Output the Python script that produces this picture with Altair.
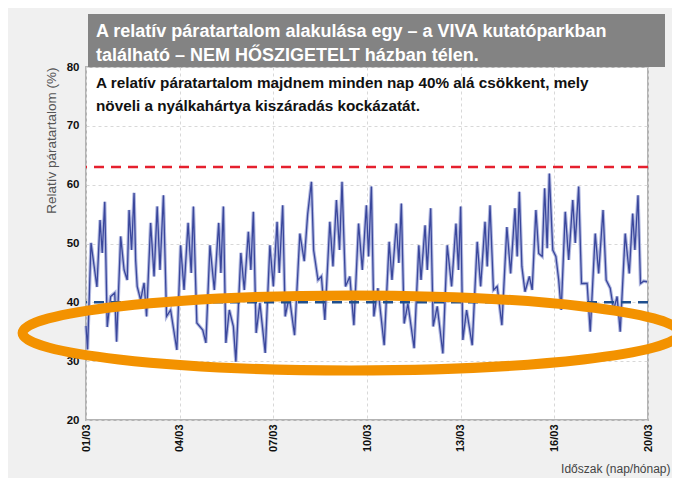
import altair as alt
import pandas as pd

# ---- data ----
days = [0.00, 0.05, 0.16, 0.35, 0.45, 0.52, 0.60, 0.68, 0.79, 0.92,
        0.98, 1.11, 1.22, 1.32, 1.38, 1.46, 1.54, 1.59, 1.64, 1.75,
        1.86, 1.94, 2.07, 2.18, 2.28, 2.37, 2.48, 2.58, 2.71, 2.91,
        3.03, 3.14, 3.27, 3.37, 3.44, 3.55, 3.74, 3.84, 3.97, 4.11,
        4.25, 4.32, 4.40, 4.48, 4.59, 4.72, 4.80, 4.96, 5.07, 5.20,
        5.28, 5.36, 5.45, 5.57, 5.74, 5.89, 6.00, 6.12, 6.19, 6.30,
        6.38, 6.51, 6.68, 6.85, 6.99, 7.10, 7.22, 7.29, 7.43, 7.54,
        7.65, 7.81, 7.91, 8.02, 8.12, 8.20, 8.31, 8.45, 8.58, 8.73,
        8.85, 8.98, 9.05, 9.14, 9.22, 9.35, 9.55, 9.71, 9.80, 9.94,
        10.02, 10.10, 10.19, 10.31, 10.51, 10.66, 10.73, 10.86, 10.93, 11.04,
        11.12, 11.25, 11.43, 11.57, 11.71, 11.85, 11.93, 12.00, 12.07, 12.19,
        12.37, 12.53, 12.64, 12.78, 12.85, 12.94, 13.05, 13.17, 13.32, 13.48,
        13.60, 13.74, 13.81, 13.88, 13.96, 14.06, 14.20, 14.29, 14.41, 14.50,
        14.61, 14.69, 14.77, 14.84, 14.95, 15.05, 15.14, 15.22, 15.35, 15.46,
        15.59, 15.67, 15.78, 15.87, 16.05, 16.15, 16.31, 16.42, 16.56, 16.66,
        16.79, 16.90, 17.01, 17.11, 17.27, 17.40, 17.51, 17.58, 17.68, 17.76,
        17.86, 17.97]
rh = [36.0, 32.0, 50.1, 42.6, 54.0, 48.4, 57.1, 35.8, 41.0, 41.6,
      33.3, 51.2, 45.5, 43.8, 55.7, 48.9, 58.6, 47.2, 42.7, 40.4,
      43.3, 37.6, 53.5, 44.4, 56.3, 45.5, 58.2, 37.6, 38.7, 31.9,
      49.7, 42.1, 53.5, 45.0, 56.3, 36.5, 35.3, 33.1, 49.7, 42.1,
      53.5, 45.0, 56.3, 33.1, 38.7, 35.9, 29.9, 48.4, 42.1, 52.0,
      45.5, 55.4, 34.8, 39.9, 31.4, 49.7, 42.7, 53.7, 45.0, 56.5,
      37.6, 41.0, 34.4, 51.7, 47.0, 55.0, 60.5, 48.9, 43.8, 44.4,
      37.0, 53.7, 46.1, 57.4, 48.9, 60.5, 42.7, 44.4, 36.1, 53.4,
      45.5, 56.5, 47.8, 59.7, 37.6, 42.4, 32.7, 50.3, 43.8, 53.4,
      46.7, 56.8, 36.4, 39.8, 32.2, 49.7, 43.8, 53.1, 45.5, 56.0,
      35.9, 39.3, 31.3, 49.7, 42.7, 53.4, 45.5, 56.3, 33.6, 38.7,
      32.7, 50.3, 42.7, 53.7, 46.1, 56.5, 42.1, 42.7, 36.1, 52.8,
      44.9, 56.0, 47.8, 58.8, 46.1, 41.8, 44.4, 42.1, 55.7, 48.3,
      47.8, 59.4, 49.2, 61.9, 48.9, 47.8, 43.8, 38.7, 55.4, 47.2,
      57.4, 50.1, 59.7, 43.2, 43.2, 35.0, 51.7, 44.9, 55.7, 43.8,
      42.4, 38.7, 41.0, 35.0, 51.7, 44.9, 55.1, 48.9, 58.2, 43.2,
      43.6, 43.5]
assert len(days) == len(rh)

x_tick_values = [0, 3, 6, 9, 12, 15, 18]
x_tick_labels = ["01/03", "04/03", "07/03", "10/03", "13/03", "16/03", "20/03"]
y_ticks = [20, 30, 40, 50, 60, 70, 80]
upper_limit = [63]
lower_limit = [40]
ellipse_day = [8.49]
ellipse_rh = [34.8]

title_lines = ["A relatív páratartalom alakulása egy – a VIVA kutatóparkban",
               "található – NEM HŐSZIGETELT házban télen."]
subtitle_lines = ["A relatív páratartalom majdnem minden nap 40% alá csökkent, mely",
                  "növeli a nyálkahártya kiszáradás kockázatát."]
y_title = "Relatív páratartalom (%)"
x_title = "Időszak (nap/hónap)"

# ---- build ----
df = pd.DataFrame({"day": days, "rh": rh})

label_expr = "".join(f"datum.value == {v} ? '{l}' : " for v, l in zip(x_tick_values, x_tick_labels)) + "''"

W, H = 562, 353
sans = "Liberation Sans, Arial, sans-serif"

x_enc = alt.X("day:Q", scale=alt.Scale(domain=[0, 18], nice=False),
              axis=alt.Axis(values=x_tick_values, labelExpr=label_expr, labelAngle=270,
                            labelFont=sans, labelFontWeight="bold", labelFontSize=11,
                            labelColor="#111", labelPadding=4, ticks=False, domain=False,
                            grid=True, gridColor="#d8d8d8", gridDash=[3, 3],
                            title=x_title, titleFont=sans, titleFontSize=12,
                            titleFontWeight="normal", titleColor="#444",
                            titleAnchor="end", titleAlign="right", titleBaseline="middle",
                            titleX=584, titleY=48))
y_enc = alt.Y("rh:Q", scale=alt.Scale(domain=[20, 80], nice=False, zero=False),
              axis=alt.Axis(values=y_ticks, labelFont=sans, labelFontWeight="bold",
                            labelFontSize=11.5, labelColor="#111", labelPadding=7,
                            ticks=False, domain=False,
                            grid=True, gridColor="#d8d8d8", gridDash=[3, 3],
                            title=y_title, titleFont=sans, titleFontSize=13.5,
                            titleFontWeight="normal", titleColor="#555", titleAngle=-90,
                            titleAlign="right", titleBaseline="middle",
                            titleX=-35, titleY=0))

base = alt.Chart(df)

halo = base.mark_line(color="#aab1dd", strokeWidth=3.4, opacity=0.9).encode(x=x_enc, y=y_enc)
core = base.mark_line(color="#3a479c", strokeWidth=1.3).encode(x="day:Q", y="rh:Q")

red_rule = alt.Chart(pd.DataFrame({"v": upper_limit})).mark_rule(
    color="#e5202e", strokeWidth=2.5, strokeDash=[10, 7]).encode(y="v:Q")
blue_rule = alt.Chart(pd.DataFrame({"v": lower_limit})).mark_rule(
    color="#1f4f8e", strokeWidth=2.5, strokeDash=[10, 7]).encode(y="v:Q")

# ellipse outline as a custom symbol path (unit box, squashed vertically)
e = 37.5 / 328.5
k = 0.5523
ell_path = (f"M -1 0 C -1 {-e*k:.4f} {-k} {-e:.4f} 0 {-e:.4f} "
            f"C {k} {-e:.4f} 1 {-e*k:.4f} 1 0 "
            f"C 1 {e*k:.4f} {k} {e:.4f} 0 {e:.4f} "
            f"C {-k} {e:.4f} -1 {e*k:.4f} -1 0 Z")
ellipse = alt.Chart(pd.DataFrame({"day": ellipse_day, "rh": ellipse_rh})).mark_point(
    shape=ell_path, filled=False, stroke="#f39200", strokeWidth=10, opacity=1,
    size=657 * 657).encode(x="day:Q", y="rh:Q")

title_box = alt.Chart(pd.DataFrame({"a": [0]})).mark_rect(color="#838383").encode(
    x=alt.value(2), x2=alt.value(579), y=alt.value(-53), y2=alt.value(0))

texts = []
for i, line in enumerate(title_lines):
    texts.append(alt.Chart(pd.DataFrame({"t": [line]})).mark_text(
        align="left", baseline="middle", font=sans, fontWeight="bold",
        fontSize=18, color="white").encode(
        x=alt.value(10), y=alt.value(-35 + 24 * i), text="t:N"))
for i, line in enumerate(subtitle_lines):
    texts.append(alt.Chart(pd.DataFrame({"t": [line]})).mark_text(
        align="left", baseline="middle", font=sans, fontWeight="bold",
        fontSize=15.3, color="#111").encode(
        x=alt.value(10), y=alt.value(16 + 23 * i), text="t:N"))

chart = alt.layer(halo, core, red_rule, blue_rule, ellipse, title_box, *texts).properties(
    width=W, height=H,
    autosize=alt.AutoSizeParams(type="none"),
    padding={"left": 78, "top": 59, "right": 24, "bottom": 58},
    background="#f0f0f0",
).configure_view(stroke="#b3b3b3", strokeWidth=2, fill="white")

chart.save("out.html", embed_options={"renderer": "svg", "actions": False})
